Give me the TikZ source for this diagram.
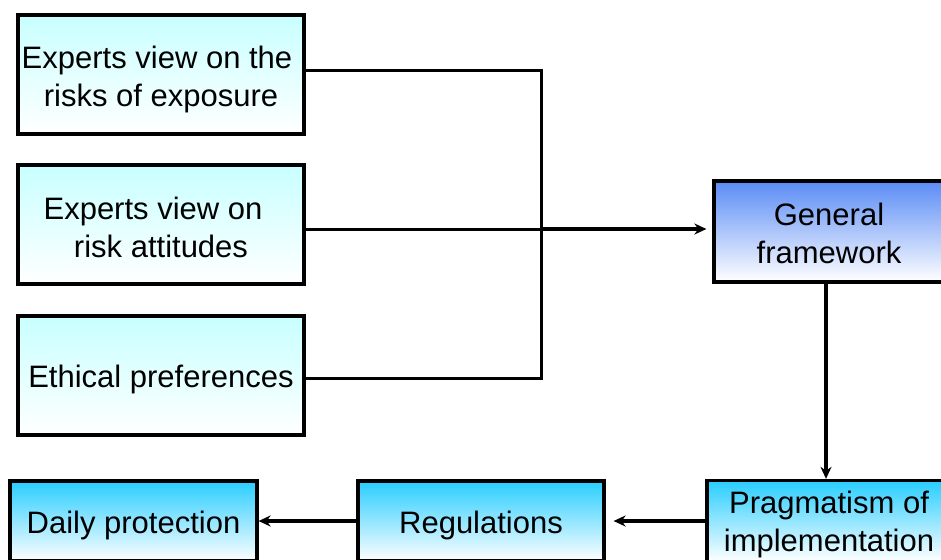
\documentclass[tikz,border=0pt]{standalone}
\usepackage{fontspec}
\setmainfont{Liberation Sans}
\usetikzlibrary{arrows.meta}
\definecolor{viewcyan}{RGB}{200,255,255}
\definecolor{frameblue}{RGB}{90,140,245}
\definecolor{stepcyan}{RGB}{40,205,255}
\newcommand{\lift}[1]{\rule{0pt}{#1}}

\begin{document}
\begin{tikzpicture}
[x=1pt,y=-1pt,
every node/.style={draw,line width=3.2pt,align=center,
  font=\fontsize{31}{38}\selectfont,bottom color=white},
viewbox/.style={top color=viewcyan,minimum width=286pt,minimum height=119pt},
framebox/.style={top color=frameblue,minimum width=230pt,minimum height=101pt},
lowbox/.style={top color=stepcyan,minimum height=80pt},
link/.style={line width=3pt},
flow/.style={line width=3.5pt,-{Stealth[length=12pt,width=11pt]}},
]
\path[use as bounding box,clip] (0,0) rectangle (941,559);
% left column
\node[viewbox] (risk) at (161,74.5) {\lift{32pt}Experts view on the\hspace*{8pt}\\ risks of exposure};
\node[viewbox] (attit) at (161,224.5) {\lift{28pt}Experts view on\hspace*{16pt}\\ risk attitudes};
\node[viewbox] (ethic) at (161,375.5) {\lift{31pt}Ethical preferences};
% right and bottom
\node[framebox] (frame) at (829,231.5) {\lift{26pt}General\\framework};
\node[lowbox,minimum width=244pt] (pragm) at (829,521) {\lift{30pt}Pragmatism of\\implementation};
\node[lowbox,minimum width=246pt] (regul) at (481,521) {\lift{31pt}Regulations};
\node[lowbox,minimum width=247pt] (daily) at (133.5,521) {\lift{31pt}Daily protection};
\coordinate (join) at (541,229);
\draw[link] ([yshift=3.5pt]risk.east) -| (join);
\draw[link] ([yshift=-2.5pt]ethic.east) -| (join);
\draw[link] (attit.east |- join) -- (join);
\draw[flow,line width=4.5pt,shorten >=6pt] (join) -- (frame.west |- join);
\draw[flow] ([xshift=-3pt]frame.south) -- ([xshift=-3pt]pragm.north);
\draw[flow,shorten >=8pt] (pragm.west) -- (regul.east);
\draw[flow] (regul.west) -- (daily.east);
\end{tikzpicture}
\end{document}
